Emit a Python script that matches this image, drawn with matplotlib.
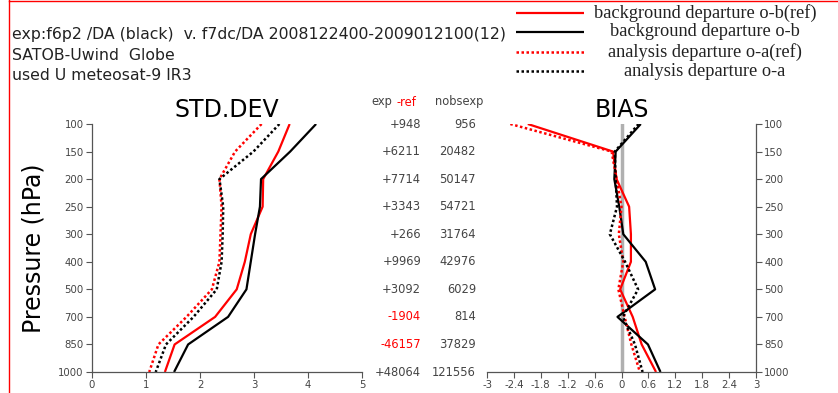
import matplotlib
matplotlib.use('Agg')
import matplotlib.pyplot as plt
from matplotlib.lines import Line2D

plt.rcParams['font.family'] = ['DejaVu Sans']

# pressure levels (hPa), plotted equally spaced
levels = [100, 150, 200, 250, 300, 400, 500, 700, 850, 1000]

# STD.DEV profiles
std_ob_ref = [3.66, 3.45, 3.17, 3.16, 2.94, 2.83, 2.68, 2.28, 1.53, 1.35]
std_ob = [4.15, 3.67, 3.13, 3.11, 3.02, 2.94, 2.86, 2.52, 1.78, 1.52]
std_oa_ref = [3.14, 2.65, 2.36, 2.40, 2.38, 2.36, 2.22, 1.75, 1.23, 1.06]
std_oa = [3.47, 2.99, 2.36, 2.43, 2.42, 2.40, 2.31, 1.88, 1.37, 1.18]

# BIAS profiles
bias_ob_ref = [-2.09, -0.19, -0.11, 0.17, 0.21, 0.21, -0.03, 0.25, 0.45, 0.77]
bias_ob = [0.43, -0.13, -0.16, -0.05, 0.04, 0.54, 0.75, -0.09, 0.59, 0.87]
bias_oa_ref = [-2.48, -0.22, -0.11, 0.0, -0.06, 0.04, -0.07, 0.07, 0.22, 0.41]
bias_oa = [0.38, -0.15, -0.13, -0.10, -0.26, 0.08, 0.37, 0.03, 0.30, 0.47]

# observation counts
exp_minus_ref = ['+948', '+6211', '+7714', '+3343', '+266', '+9969', '+3092',
                 '-1904', '-46157', '+48064']
nobs_exp = ['956', '20482', '50147', '54721', '31764', '42976', '6029',
            '814', '37829', '121556']

std_ticks = [0, 1, 2, 3, 4, 5]
bias_ticks = [-3, -2.4, -1.8, -1.2, -0.6, 0, 0.6, 1.2, 1.8, 2.4, 3]
bias_ticklabels = ['-3', '-2.4', '-1.8', '-1.2', '-0.6', '0', '0.6', '1.2', '1.8', '2.4', '3']

W, H = 838, 393
fig = plt.figure(figsize=(W / 100, H / 100), dpi=100)

def px_axes(x0, x1, y0, y1):
    return fig.add_axes([x0 / W, 1 - y1 / H, (x1 - x0) / W, (y1 - y0) / H])

ypos = list(range(len(levels)))
tick_col = '#444444'
solid = dict(lw=1.6, solid_capstyle='butt')
dotted = dict(lw=1.8, linestyle=(0, (1, 1)))

def style_axis(ax):
    for s in ax.spines.values():
        s.set_color('#555555')
        s.set_linewidth(0.9)
    ax.spines['top'].set_visible(False)
    ax.tick_params(colors='#555555', labelcolor=tick_col, labelsize=7.3,
                   length=4, width=0.8, pad=2)
    ax.set_ylim(len(levels) - 1, 0)

# STD.DEV panel
ax1 = px_axes(92, 362, 124, 372)
ax1.plot(std_ob_ref, ypos, color='red', **solid)
ax1.plot(std_ob, ypos, color='black', **solid)
ax1.plot(std_oa_ref, ypos, color='red', **dotted)
ax1.plot(std_oa, ypos, color='black', **dotted)
ax1.set_xlim(0, 5)
ax1.set_xticks(std_ticks)
ax1.set_yticks(ypos)
ax1.set_yticklabels([str(v) for v in levels])
style_axis(ax1)
ax1.spines['right'].set_visible(False)
ax1.set_title('STD.DEV', fontsize=17, pad=5)
ax1.set_ylabel('Pressure (hPa)', fontsize=17, labelpad=9)

# BIAS panel
ax2 = px_axes(487, 756, 124, 372)
ax2.plot([0, 0], [0, len(levels) - 1], color='#b0b0b0', lw=2.5, zorder=1)
ax2.plot(bias_ob_ref, ypos, color='red', **solid)
ax2.plot(bias_ob, ypos, color='black', **solid)
ax2.plot(bias_oa_ref, ypos, color='red', **dotted)
ax2.plot(bias_oa, ypos, color='black', **dotted)
ax2.set_xlim(-3, 3)
ax2.set_xticks(bias_ticks)
ax2.set_xticklabels(bias_ticklabels)
ax2.set_yticks(ypos)
ax2.set_yticklabels([str(v) for v in levels])
style_axis(ax2)
ax2.spines['left'].set_visible(False)
ax2.yaxis.tick_right()
ax2.set_title('BIAS', fontsize=17, pad=5)

# counts column between panels, one row per level
for i in ypos:
    col = 'red' if exp_minus_ref[i].startswith('-') else tick_col
    y = ax1.transData.transform((0, i))[1] / (fig.dpi * fig.get_figheight())
    fig.text(421 / W, y, exp_minus_ref[i], ha='right', va='center', fontsize=8.3, color=col)
    fig.text(476 / W, y, nobs_exp[i], ha='right', va='center', fontsize=8.3, color=tick_col)
fig.text(371 / W, 1 - 102 / H, 'exp', fontsize=8.3, color=tick_col, va='center')
fig.text(396 / W, 1 - 102 / H, '-ref', fontsize=8.3, color='red', va='center')
fig.text(435 / W, 1 - 102 / H, 'nobsexp', fontsize=8.3, color=tick_col, va='center')

# header text
header_lines = ['exp:f6p2 /DA (black)  v. f7dc/DA 2008122400-2009012100(12)',
                'SATOB-Uwind  Globe',
                'used U meteosat-9 IR3']
for txt, yy in zip(header_lines, [35, 55, 75]):
    fig.text(12 / W, 1 - yy / H, txt, fontsize=11.3, va='center', color='#222222')

# legend
legend_labels = ['background departure o-b(ref)', 'background departure o-b',
                 'analysis departure o-a(ref)', 'analysis departure o-a']
legend_styles = [('red', solid), ('black', solid), ('red', dotted), ('black', dotted)]
legend_y = [13, 32, 52, 71]
for lab, (c, st), yy in zip(legend_labels, legend_styles, legend_y):
    fig.add_artist(Line2D([516 / W, 584 / W], [1 - yy / H, 1 - yy / H], color=c, **st))
    fig.text(705 / W, 1 - yy / H, lab, ha='center', va='center', fontsize=13.2,
             family=['Liberation Serif', 'DejaVu Serif'], color='#222222')

# red frame
fig.add_artist(Line2D([9 / W, 9 / W], [0, 1], color='red', lw=1))
fig.add_artist(Line2D([9 / W, 1], [1 - 1 / H, 1 - 1 / H], color='red', lw=1))

fig.savefig('out.png', dpi=100)
